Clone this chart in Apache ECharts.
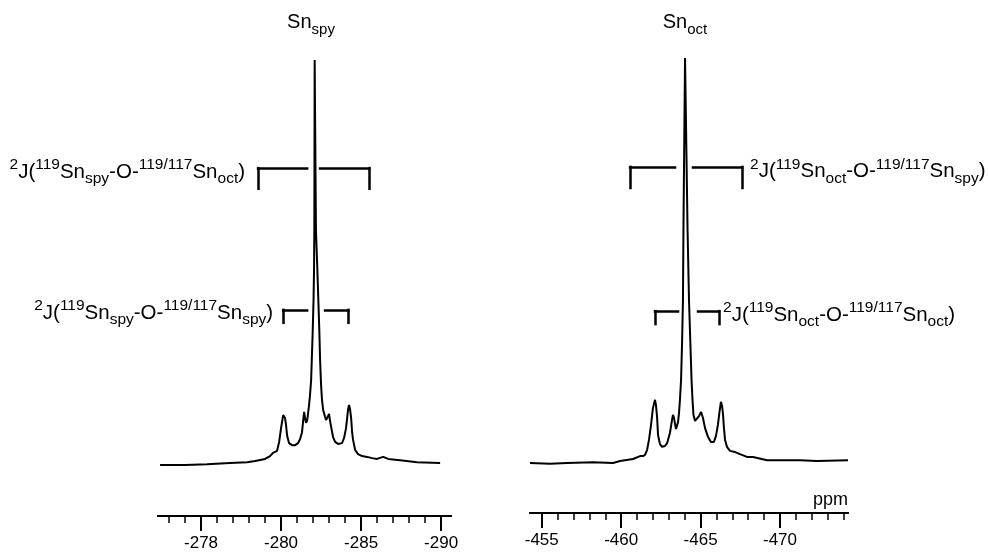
<!DOCTYPE html>
<html><head><meta charset="utf-8">
<script src="https://cdn.jsdelivr.net/npm/echarts@6/dist/echarts.min.js"></script>
<style>html,body{margin:0;padding:0;background:#fff}#c{width:988px;height:552px}</style>
</head><body><div id="c"></div>
<script>
const FONT = '"Liberation Sans", Arial, Helvetica, sans-serif';

// 119Sn spectrum, Sn_spy region: [ppm, intensity]
const spySpectrum = [[-272.44,0],[-274.00,0],[-275.38,0.2],[-276.81,0.5],[-277.88,0.7],[-278.38,1.0],[-279.00,1.5],[-279.31,2.2],[-279.50,3.0],[-279.75,3.5],[-279.88,5.7],[-280.00,9.1],[-280.13,12.3],[-280.19,12.6],[-280.25,11.6],[-280.31,9.9],[-280.38,7.2],[-280.50,5.4],[-280.69,4.9],[-280.88,4.9],[-281.06,5.4],[-281.19,6.4],[-281.31,8.1],[-281.38,10.9],[-281.44,13.1],[-281.50,11.6],[-281.56,10.4],[-281.63,10.9],[-281.69,12.8],[-281.75,14.8],[-281.81,17.3],[-281.88,21.0],[-281.94,28.4],[-281.98,33.3],[-282.03,40.7],[-282.06,48.1],[-282.08,58.0],[-282.10,100],[-282.18,58.0],[-282.27,48.1],[-282.33,40.7],[-282.39,33.3],[-282.44,25.9],[-282.50,19.8],[-282.56,16.0],[-282.63,13.6],[-282.75,11.9],[-282.81,11.1],[-282.88,11.4],[-282.94,12.1],[-283.00,12.6],[-283.06,10.9],[-283.13,9.4],[-283.25,6.9],[-283.38,5.7],[-283.56,5.2],[-283.81,5.4],[-283.94,6.7],[-284.06,9.1],[-284.13,11.6],[-284.19,13.8],[-284.25,14.8],[-284.31,13.8],[-284.38,11.6],[-284.44,8.1],[-284.50,6.2],[-284.63,3.7],[-284.81,2.7],[-285.06,2.2],[-285.38,2.0],[-285.69,1.7],[-286.00,1.5],[-286.38,2.0],[-286.69,1.5],[-287.44,1.2],[-288.50,0.7],[-289.94,0.5]];

// 119Sn spectrum, Sn_oct region: [ppm, intensity]
const octSpectrum = [[-454.26,0],[-455.52,-0.2],[-456.59,0],[-458.23,0.2],[-459.49,0],[-459.93,0.5],[-460.75,1.0],[-461.19,1.7],[-461.37,1.7],[-461.50,2.0],[-461.63,3.2],[-461.75,5.7],[-461.88,9.4],[-462.00,13.6],[-462.13,15.6],[-462.19,14.3],[-462.26,11.4],[-462.32,6.9],[-462.44,4.7],[-462.57,4.0],[-462.76,4.2],[-462.89,4.9],[-463.07,7.4],[-463.20,10.6],[-463.26,11.9],[-463.33,11.1],[-463.39,9.6],[-463.45,8.4],[-463.51,8.6],[-463.58,10.1],[-463.64,12.3],[-463.70,15.6],[-463.77,20.5],[-463.83,29.1],[-463.89,40.2],[-463.92,57.5],[-464.02,100],[-464.18,57.5],[-464.27,40.2],[-464.36,29.1],[-464.43,20.5],[-464.49,15.6],[-464.55,11.9],[-464.65,10.4],[-464.77,10.4],[-464.90,11.6],[-465.03,12.6],[-465.09,12.3],[-465.15,11.1],[-465.28,8.6],[-465.47,6.4],[-465.65,5.2],[-465.84,5.2],[-465.97,6.7],[-466.09,9.4],[-466.19,12.6],[-466.28,15.1],[-466.35,14.1],[-466.41,12.1],[-466.47,8.6],[-466.54,5.7],[-466.66,4.0],[-466.85,3.0],[-467.17,2.7],[-467.48,2.2],[-467.92,1.5],[-468.30,1.5],[-469.18,0.7],[-470.19,0.7],[-471.26,0.7],[-472.33,0.5],[-474.28,0.7]];

// axis ticks and labels
const spyMajorTicks = [-275, -280, -285, -290];
const spyTickLabels = ['-278', '-280', '-285', '-290'];
const spyMinorTicks = [-273,-274,-275,-276,-277,-278,-279,-280,-281,-282,-283,-284,-285,-286,-287,-288,-289,-290];
const octMajorTicks = [-455, -460, -465, -470];
const octTickLabels = ['-455', '-460', '-465', '-470'];
const octMinorTicks = [-455,-456,-457,-458,-459,-460,-461,-462,-463,-464,-465,-466,-467,-468,-469,-470,-471,-472,-473,-474];

// coupling brackets (ppm ends, gap around main line, heights in intensity units)
const spyBrackets = [
  {from:-278.56, to:-285.50, gapFrom:-281.63, gapTo:-282.44, level:73.3, leg:68.2},
  {from:-280.13, to:-284.19, gapFrom:-281.63, gapTo:-282.75, level:38.3, leg:35.1}
];
const octBrackets = [
  {from:-460.56, to:-467.61, gapFrom:-463.39, gapTo:-464.52, level:73.1, leg:67.9},
  {from:-462.13, to:-466.16, gapFrom:-463.58, gapTo:-464.84, level:37.5, leg:34.3}
];

// annotation texts (rich text)
const spyLabels = [
  {text:'{sup|2}{b|J(}{sup|119}{b|Sn}{sub|spy}{b|-O-}{sup|119/117}{b|Sn}{sub|oct}{b|)}', at:-278.56, y:72.3},
  {text:'{sup|2}{b|J(}{sup|119}{b|Sn}{sub|spy}{b|-O-}{sup|119/117}{b|Sn}{sub|spy}{b|)}', at:-280.13, y:37.5}
];
const octLabels = [
  {text:'{sup|2}{b|J(}{sup|119}{b|Sn}{sub|oct}{b|-O-}{sup|119/117}{b|Sn}{sub|spy}{b|)}', at:-467.61, y:71.9},
  {text:'{sup|2}{b|J(}{sup|119}{b|Sn}{sub|oct}{b|-O-}{sup|119/117}{b|Sn}{sub|oct}{b|)}', at:-466.16, y:36.5}
];

const rich = {
  b:   {fontSize:20.5, lineHeight:30, verticalAlign:'middle', color:'#000', fontFamily:FONT},
  sup: {fontSize:15.5, lineHeight:14, verticalAlign:'top', color:'#000', fontFamily:FONT},
  sub: {fontSize:15.5, lineHeight:20, verticalAlign:'bottom', color:'#000', fontFamily:FONT}
};

function bracketLines(list) {
  const out = [];
  list.forEach(b => {
    out.push([{coord:[b.from, b.level]}, {coord:[b.from, b.leg]}]);
    out.push([{coord:[b.from, b.level]}, {coord:[b.gapFrom, b.level]}]);
    out.push([{coord:[b.gapTo, b.level]}, {coord:[b.to, b.level]}]);
    out.push([{coord:[b.to, b.level]}, {coord:[b.to, b.leg]}]);
  });
  return out;
}
function labelPoints(list, side, gaps) {
  return list.map((l, i) => ({
    coord:[l.at, l.y], symbolSize:0,
    label:{show:true, position:side, distance:gaps[i], formatter:l.text, rich:rich}
  }));
}
function axesFor(gridIndex, min, max, minor, major, labels, offset) {
  return [
    {gridIndex, type:'value', inverse:true, min, max, position:'bottom', offset,
     axisLine:{show:true, onZero:false, lineStyle:{color:'#000', width:2}},
     axisTick:{show:true, customValues:minor, length:7, lineStyle:{color:'#000', width:1.5}},
     axisLabel:{show:false}, splitLine:{show:false}},
    {gridIndex, type:'value', inverse:true, min, max, position:'bottom', offset,
     axisLine:{show:true, onZero:false, lineStyle:{color:'#000', width:2}},
     axisTick:{show:true, customValues:major, length:15, lineStyle:{color:'#000', width:2}},
     axisLabel:{show:true, customValues:major, margin:19, fontSize:17, color:'#000', fontFamily:FONT,
                formatter: v => { const k = major.indexOf(v); return k >= 0 ? labels[k] : ''; }},
     splitLine:{show:false}}
  ];
}

const chart = echarts.init(document.getElementById('c'), null, {renderer:'canvas'});
const titleRich = {
  a:{fontSize:20, lineHeight:30, verticalAlign:'middle', color:'#000', fontFamily:FONT, fontWeight:'normal'},
  s:{fontSize:15, lineHeight:18, verticalAlign:'bottom', color:'#000', fontFamily:FONT, fontWeight:'normal'}
};
chart.setOption({
  animation:false,
  backgroundColor:'#fff',
  title:[
    {text:'{a|Sn}{s|spy}', left:311, top:7, textAlign:'center', padding:0, textStyle:{rich:titleRich}},
    {text:'{a|Sn}{s|oct}', left:685, top:7, textAlign:'center', padding:0, textStyle:{rich:titleRich}},
    {text:'ppm', right:140, top:491, padding:0, textStyle:{fontSize:18, fontWeight:'normal', color:'#000', fontFamily:FONT}}
  ],
  grid:[
    {left:158, width:293, top:60, height:405},
    {left:530, width:318, top:58, height:405}
  ],
  xAxis:[].concat(
    axesFor(0, -290.62, -272.31, spyMinorTicks, spyMajorTicks, spyTickLabels, 51),
    axesFor(1, -474.28, -454.26, octMinorTicks, octMajorTicks, octTickLabels, 50)
  ),
  yAxis:[
    {gridIndex:0, type:'value', min:0, max:100, show:false},
    {gridIndex:1, type:'value', min:0, max:100, show:false}
  ],
  series:[
    {type:'line', xAxisIndex:0, yAxisIndex:0, data:spySpectrum, showSymbol:false, clip:false,
     lineStyle:{color:'#000', width:2}, silent:true,
     markLine:{silent:true, symbol:['none','none'], label:{show:false},
               lineStyle:{type:'solid', color:'#000', width:2.5, cap:'square'}, data:bracketLines(spyBrackets)},
     markPoint:{silent:true, symbol:'circle', symbolSize:0, data:labelPoints(spyLabels, 'left', [13, 10])}},
    {type:'line', xAxisIndex:2, yAxisIndex:1, data:octSpectrum, showSymbol:false, clip:false,
     lineStyle:{color:'#000', width:2}, silent:true,
     markLine:{silent:true, symbol:['none','none'], label:{show:false},
               lineStyle:{type:'solid', color:'#000', width:2.5, cap:'square'}, data:bracketLines(octBrackets)},
     markPoint:{silent:true, symbol:'circle', symbolSize:0, data:labelPoints(octLabels, 'right', [8, 4])}}
  ]
});
</script></body></html>
